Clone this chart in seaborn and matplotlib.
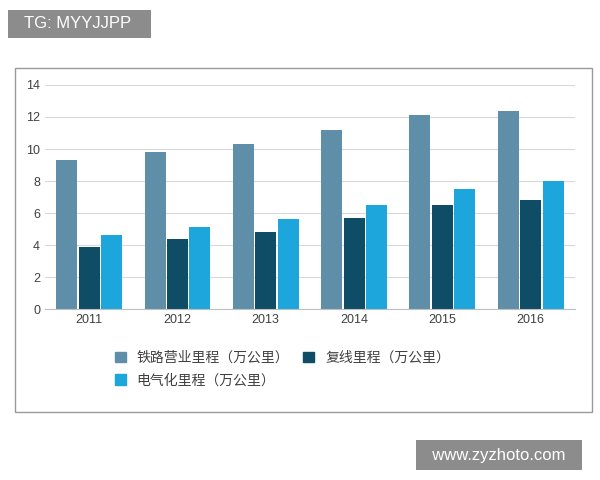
import pandas as pd
import matplotlib.pyplot as plt
import seaborn as sns
from matplotlib.patches import Rectangle

years = ["2011", "2012", "2013", "2014", "2015", "2016"]
railway = [9.3, 9.8, 10.3, 11.2, 12.1, 12.4]
double_track = [3.9, 4.4, 4.8, 5.7, 6.5, 6.8]
electrified = [4.6, 5.1, 5.6, 6.5, 7.5, 8.0]
names = ["铁路营业里程（万公里）", "复线里程（万公里）", "电气化里程（万公里）"]
colors = ["#5f8ea8", "#0f4c66", "#1ca6dc"]

sns.set_style("white")
plt.rcParams['font.family'] = ['Liberation Sans', 'Noto Sans CJK SC']

df = pd.DataFrame({"year": years * 3,
                   "value": railway + double_track + electrified,
                   "series": [names[0]] * 6 + [names[1]] * 6 + [names[2]] * 6})

fig = plt.figure(figsize=(6, 4.8), dpi=100)
# outer frame
fig.patches.append(Rectangle((15 / 600, 68 / 480), 577 / 600, 344 / 480, transform=fig.transFigure,
                             fill=False, edgecolor="#999999", lw=1))
ax = fig.add_axes([0.075, 0.356, 0.883, 0.467])
sns.barplot(data=df, x="year", y="value", hue="series", palette=colors, ax=ax,
            width=0.76, gap=0.06, saturation=1, linewidth=0, legend=False)
ax.set_ylim(0, 14)
ax.set_yticks(range(0, 15, 2))
ax.yaxis.grid(True, color="#d9d9d9", lw=0.8)
ax.set_axisbelow(True)
for s in ["top", "right", "left"]:
    ax.spines[s].set_visible(False)
ax.spines["bottom"].set_color("#bfbfbf")
ax.set_xlabel("")
ax.set_ylabel("")
ax.tick_params(axis="both", labelsize=9, colors="#404040", length=0)

h = [Rectangle((0, 0), 1, 1, color=c) for c in colors]
fig.legend([h[0], h[2], h[1]], [names[0], names[2], names[1]], ncol=2, frameon=False,
           loc="upper left", bbox_to_anchor=(0.17, 0.295), fontsize=10,
           handlelength=0.8, handleheight=0.8, columnspacing=1.0, labelspacing=0.6,
           labelcolor="#404040")

fig.text(0.025, 0.95, "  TG: MYYJJPP   ", fontsize=12, color="white", va="center",
         bbox=dict(boxstyle="square,pad=0.4", fc="#8c8c8c", ec="none"))
fig.text(0.705, 0.052, "  www.zyzhoto.com  ", fontsize=12, color="white", va="center",
         bbox=dict(boxstyle="square,pad=0.45", fc="#8c8c8c", ec="none"))

fig.savefig("out.png", dpi=100)
